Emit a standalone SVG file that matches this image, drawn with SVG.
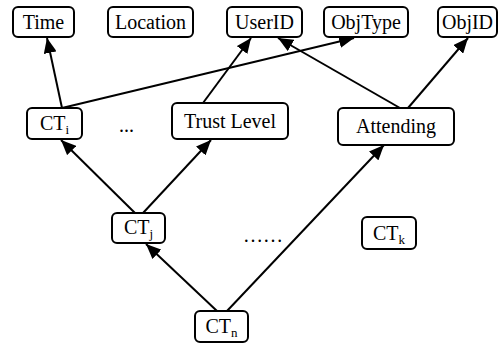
<svg xmlns="http://www.w3.org/2000/svg" width="499" height="343" viewBox="0 0 499 343">
<style>
.n rect{fill:#fff;stroke:#000;stroke-width:2}
text{font-family:'Liberation Serif','DejaVu Serif',serif}
.n text{font-size:20px;text-anchor:middle;fill:#000}
.sub{font-size:13px}
.e line{stroke:#000;stroke-width:2}
.d{font-size:20px;fill:#000}
</style>
<defs>
<marker id="ah" markerUnits="userSpaceOnUse" markerWidth="15" markerHeight="13" refX="15" refY="6.5" orient="auto">
<path d="M0,0 L15,6.5 L0,13 z" fill="#000"/>
</marker>
</defs>
<g class="e">
<line x1="62" y1="108" x2="47" y2="38" marker-end="url(#ah)"/>
<line x1="62" y1="108" x2="354" y2="38" marker-end="url(#ah)"/>
<line x1="203" y1="103" x2="251" y2="38" marker-end="url(#ah)"/>
<line x1="400" y1="108" x2="278" y2="38" marker-end="url(#ah)"/>
<line x1="408" y1="108" x2="468" y2="38" marker-end="url(#ah)"/>
<line x1="135" y1="213" x2="61" y2="140" marker-end="url(#ah)"/>
<line x1="143" y1="213" x2="211" y2="140" marker-end="url(#ah)"/>
<line x1="217" y1="311" x2="146" y2="244" marker-end="url(#ah)"/>
<line x1="227" y1="311" x2="384" y2="145" marker-end="url(#ah)"/>
</g>
<g id="time" class="n"><rect x="13" y="7" width="61" height="30" rx="5"/><text x="43.5" y="29">Time</text></g>
<g id="location" class="n"><rect x="108" y="7" width="85" height="30" rx="5"/><text x="150.5" y="29">Location</text></g>
<g id="userid" class="n"><rect x="227" y="7" width="75" height="30" rx="5"/><text x="264.5" y="29">UserID</text></g>
<g id="objtype" class="n"><rect x="324" y="7" width="84" height="30" rx="5"/><text x="366" y="29">ObjType</text></g>
<g id="objid" class="n"><rect x="438" y="7" width="59" height="30" rx="5"/><text x="467.5" y="29">ObjID</text></g>
<g id="cti" class="n"><rect x="27" y="108" width="55" height="31" rx="5"/><text x="54.5" y="130">CT<tspan class="sub" dy="4">i</tspan></text></g>
<g id="trust" class="n"><rect x="172" y="103" width="116" height="36" rx="5"/><text x="230" y="128">Trust Level</text></g>
<g id="attending" class="n"><rect x="338" y="108" width="116" height="37" rx="5"/><text x="396" y="133">Attending</text></g>
<g id="ctj" class="n"><rect x="112" y="213" width="53" height="30" rx="5"/><text x="138.5" y="234">CT<tspan class="sub" dy="4">j</tspan></text></g>
<g id="ctk" class="n"><rect x="362" y="217" width="54" height="32" rx="5"/><text x="389" y="240">CT<tspan class="sub" dy="4">k</tspan></text></g>
<g id="ctn" class="n"><rect x="195" y="311" width="53" height="31" rx="5"/><text x="221.5" y="333">CT<tspan class="sub" dy="4">n</tspan></text></g>
<text class="d" x="119" y="132">...</text>
<text class="d" x="243" y="242">……</text>
</svg>
